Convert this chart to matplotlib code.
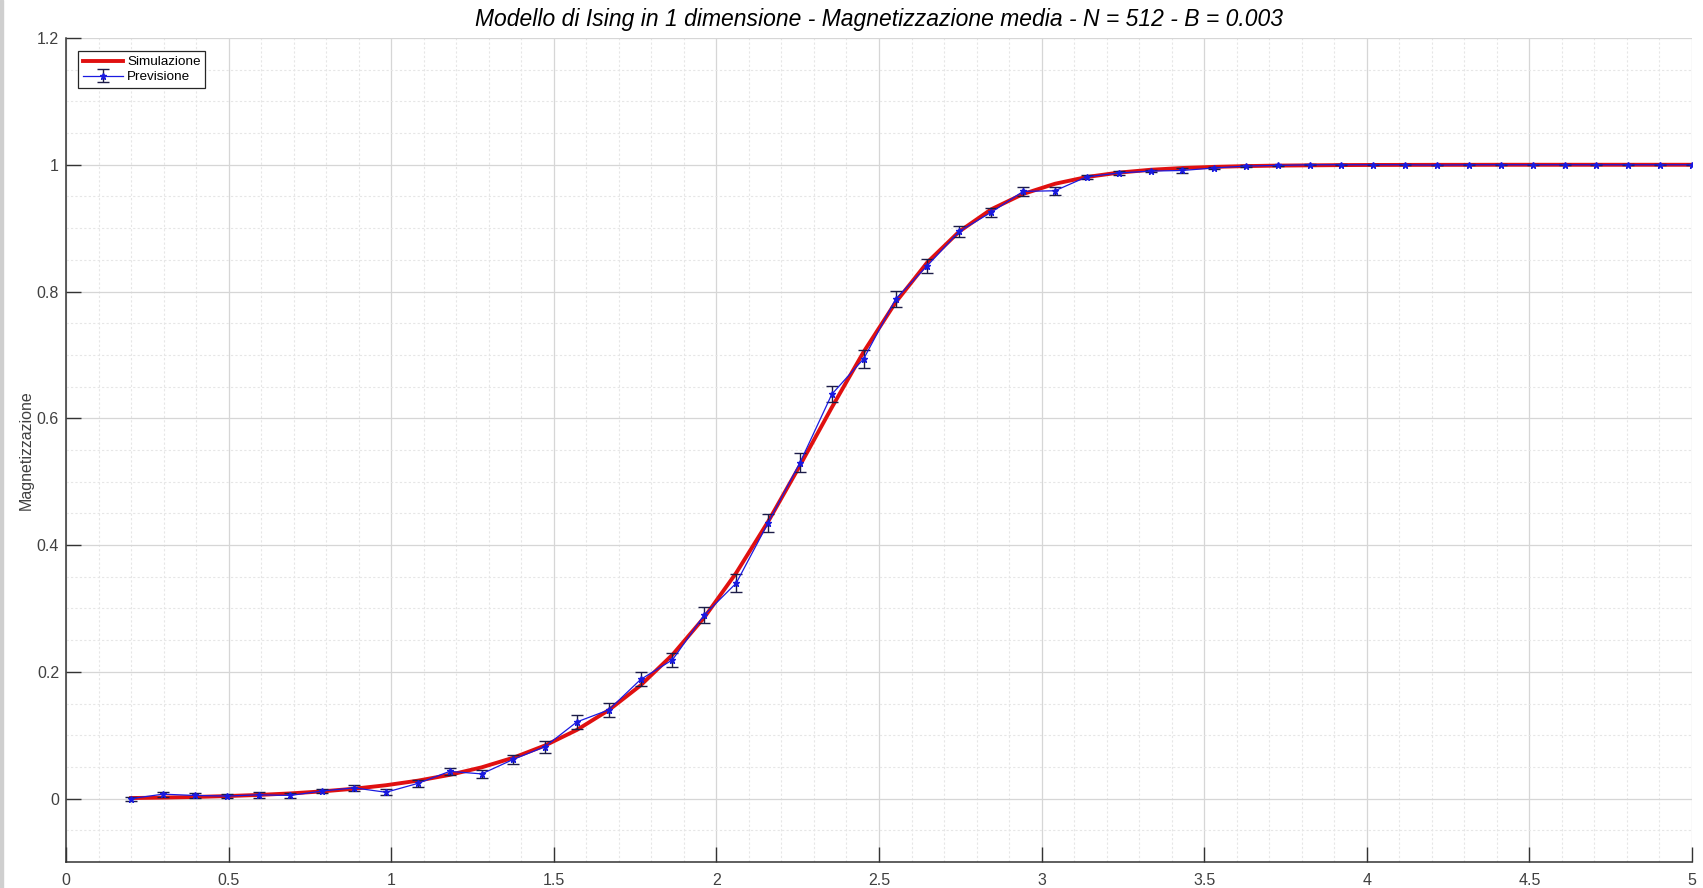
import matplotlib
matplotlib.use("Agg")
import matplotlib.pyplot as plt
from matplotlib.ticker import MultipleLocator
from matplotlib.patches import Rectangle

plt.rcParams['font.family'] = ['Liberation Sans', 'DejaVu Sans']

# inverse temperature values
beta = [0.200, 0.298, 0.396, 0.494, 0.592, 0.690, 0.788, 0.886, 0.984, 1.082,
        1.180, 1.278, 1.376, 1.473, 1.571, 1.669, 1.767, 1.865, 1.963, 2.061,
        2.159, 2.257, 2.355, 2.453, 2.551, 2.649, 2.747, 2.845, 2.943, 3.041,
        3.139, 3.237, 3.335, 3.433, 3.531, 3.629, 3.727, 3.824, 3.922, 4.020,
        4.118, 4.216, 4.314, 4.412, 4.510, 4.608, 4.706, 4.804, 4.902, 5.000]

# simulated mean magnetization
m_sim = [0.0009, 0.0016, 0.0026, 0.0040, 0.0058, 0.0082, 0.0114, 0.0156, 0.0211, 0.0283,
         0.0375, 0.0493, 0.0646, 0.0838, 0.1084, 0.1396, 0.1787, 0.2270, 0.2860, 0.3562,
         0.4370, 0.5257, 0.6172, 0.7050, 0.7828, 0.8463, 0.8948, 0.9297, 0.9539, 0.9700,
         0.9807, 0.9876, 0.9921, 0.9949, 0.9967, 0.9979, 0.9987, 0.9991, 0.9995, 0.9997,
         0.9998, 0.9999, 0.9999, 1.0000, 1.0000, 1.0000, 1.0000, 1.0000, 1.0000, 1.0000]

# predicted magnetization and its error
m_prev = [0.000, 0.007, 0.005, 0.004, 0.006, 0.005, 0.012, 0.017, 0.010, 0.024,
          0.043, 0.039, 0.062, 0.082, 0.121, 0.140, 0.188, 0.219, 0.290, 0.340,
          0.435, 0.530, 0.638, 0.694, 0.788, 0.841, 0.895, 0.925, 0.958, 0.959,
          0.981, 0.987, 0.990, 0.991, 0.995, 0.998, 0.999, 1.000, 1.000, 1.000,
          1.000, 0.9995, 1.000, 1.000, 1.000, 1.000, 1.000, 1.000, 1.000, 1.000]
err_prev = [0.0030, 0.0040, 0.0035, 0.0030, 0.0045, 0.0040, 0.0035, 0.0050, 0.0050, 0.0060,
            0.0055, 0.0065, 0.0070, 0.0095, 0.0115, 0.0105, 0.0110, 0.0110, 0.0130, 0.0140,
            0.0145, 0.0150, 0.0125, 0.0145, 0.0125, 0.0110, 0.0085, 0.0075, 0.0070, 0.0065,
            0.0035, 0.0030, 0.0020, 0.0040, 0.0020, 0.0015, 0.0010, 0.0008, 0.0008, 0.0006,
            0.0006, 0.0006, 0.0005, 0.0005, 0.0005, 0.0005, 0.0005, 0.0005, 0.0005, 0.0005]

fig = plt.figure(figsize=(17.03, 8.88), dpi=100)
ax = fig.add_axes([66 / 1703, 26 / 888, 1626 / 1703, 824 / 888])

ax.plot(beta, m_sim, color='#e01010', lw=2.8, label='Simulazione', zorder=3)
ax.errorbar(beta, m_prev, yerr=err_prev, color='#1a1ae0', lw=0.9, marker='*', ms=5,
            ecolor='#1c1c48', elinewidth=1.0, capsize=4, capthick=1.0,
            label='Previsione', zorder=4)

ax.set_xlim(0, 5)
ax.set_ylim(-0.1, 1.2)
ax.xaxis.set_minor_locator(MultipleLocator(0.1))
ax.yaxis.set_minor_locator(MultipleLocator(0.05))
ax.set_xticks([0, 0.5, 1, 1.5, 2, 2.5, 3, 3.5, 4, 4.5, 5])
ax.set_xticklabels(['0', '0.5', '1', '1.5', '2', '2.5', '3', '3.5', '4', '4.5', '5'])
ax.set_yticks([0, 0.2, 0.4, 0.6, 0.8, 1, 1.2])
ax.set_yticklabels(['0', '0.2', '0.4', '0.6', '0.8', '1', '1.2'])

ax.grid(which='major', color='#d6d6d6', lw=0.9, ls='-')
ax.grid(which='minor', color='#e6e6e6', lw=0.8, ls=(0, (2, 2)))
ax.set_axisbelow(True)

for side in ('top', 'right'):
    ax.spines[side].set_visible(False)
for side in ('left', 'bottom'):
    ax.spines[side].set_color('#333333')
    ax.spines[side].set_linewidth(1.1)

ax.tick_params(which='major', direction='in', length=11, width=1.0, color='#333333',
               labelsize=11.5, labelcolor='#404040')
ax.tick_params(axis='x', which='major', pad=8)
ax.tick_params(axis='y', which='major', pad=5)
ax.tick_params(which='minor', length=0)

ax.set_ylabel('Magnetizzazione', fontsize=11.5, color='#404040', labelpad=2)
ax.set_title('Modello di Ising in 1 dimensione - Magnetizzazione media - N = 512 - B = 0.003',
             fontsize=16.5, style='italic', pad=8.5)

leg = ax.legend(loc='upper left', bbox_to_anchor=(0.0074, 0.984), borderaxespad=0,
                fontsize=9.7, handlelength=3.0, handletextpad=0.3, borderpad=0.35,
                labelspacing=0.2, fancybox=False, framealpha=1)
leg.get_frame().set_edgecolor('#262626')
leg.get_frame().set_linewidth(0.9)

# thin grey strip on the left edge of the window
fig.patches.append(Rectangle((0, 0), 3 / 1703, 1, transform=fig.transFigure,
                             color='#cfcfcf', zorder=0))

fig.savefig('out.png', dpi=100)
